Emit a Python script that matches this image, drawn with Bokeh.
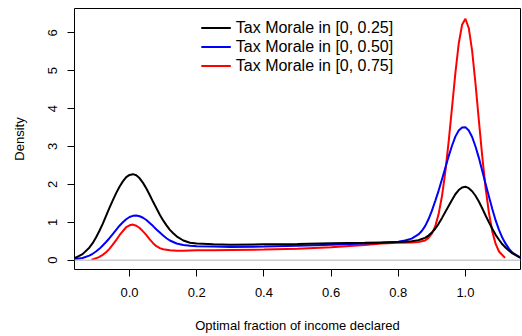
from bokeh.plotting import figure
from bokeh.models import Range1d, FixedTicker, Span, Legend, LegendItem, PrintfTickFormatter
from bokeh.embed import file_html
from bokeh.resources import INLINE

# ---- data ----
grid_x = [-0.18, -0.16, -0.14, -0.12, -0.11, -0.10, -0.09, -0.08, -0.07, -0.06,
          -0.05, -0.04, -0.03, -0.02, -0.01, 0.00, 0.01, 0.02, 0.03, 0.04,
          0.05, 0.06, 0.07, 0.08, 0.09, 0.10, 0.11, 0.12, 0.13, 0.14,
          0.16, 0.18, 0.20, 0.25, 0.30, 0.40, 0.50, 0.60, 0.70, 0.75,
          0.80, 0.82, 0.84, 0.86, 0.87, 0.88, 0.89, 0.90, 0.91, 0.92,
          0.93, 0.94, 0.95, 0.96, 0.97, 0.98, 0.99, 1.00, 1.01, 1.02,
          1.03, 1.04, 1.05, 1.06, 1.07, 1.08, 1.09, 1.10, 1.11, 1.12,
          1.13, 1.14, 1.16, 1.18]

black_y = [0.03, 0.07, 0.16, 0.33, 0.45, 0.60, 0.77, 0.96, 1.17, 1.38,
           1.58, 1.77, 1.94, 2.08, 2.19, 2.25, 2.27, 2.24, 2.16, 2.04,
           1.89, 1.72, 1.54, 1.37, 1.20, 1.05, 0.92, 0.80, 0.71, 0.63,
           0.52, 0.46, 0.44, 0.42, 0.41, 0.42, 0.43, 0.45, 0.46, 0.47,
           0.48, 0.49, 0.50, 0.53, 0.56, 0.59, 0.65, 0.73, 0.83, 0.96,
           1.11, 1.27, 1.43, 1.59, 1.74, 1.85, 1.92, 1.94, 1.90, 1.82,
           1.70, 1.55, 1.37, 1.18, 1.00, 0.83, 0.67, 0.54, 0.42, 0.33,
           0.25, 0.18, 0.08, 0.03]

blue_y = [0.01, 0.03, 0.06, 0.12, 0.17, 0.23, 0.30, 0.39, 0.48, 0.58,
          0.69, 0.80, 0.91, 1.00, 1.08, 1.14, 1.17, 1.18, 1.16, 1.12,
          1.06, 0.98, 0.90, 0.81, 0.73, 0.65, 0.58, 0.52, 0.48, 0.44,
          0.40, 0.38, 0.37, 0.36, 0.35, 0.36, 0.38, 0.41, 0.44, 0.46,
          0.49, 0.52, 0.57, 0.68, 0.77, 0.90, 1.08, 1.30, 1.56, 1.83,
          2.13, 2.43, 2.74, 3.02, 3.26, 3.42, 3.50, 3.51, 3.42, 3.25,
          3.00, 2.70, 2.36, 2.02, 1.68, 1.35, 1.05, 0.80, 0.59, 0.43,
          0.30, 0.20, 0.09, 0.03]

red_x = [-0.114, -0.10, -0.09, -0.08, -0.07, -0.06, -0.05, -0.04, -0.03, -0.02,
         -0.01, 0.00, 0.01, 0.02, 0.03, 0.04, 0.05, 0.06, 0.07, 0.08,
         0.09, 0.10, 0.12, 0.14, 0.16, 0.20, 0.25, 0.30, 0.40, 0.50,
         0.60, 0.70, 0.75, 0.80, 0.84, 0.86, 0.88, 0.89, 0.90, 0.91,
         0.92, 0.93, 0.94, 0.95, 0.96, 0.97, 0.98, 0.99, 1.00, 1.01,
         1.02, 1.03, 1.04, 1.05, 1.06, 1.07, 1.08, 1.09, 1.10, 1.118]

red_y = [0.01, 0.05, 0.09, 0.14, 0.21, 0.30, 0.41, 0.53, 0.66, 0.77,
         0.87, 0.92, 0.94, 0.91, 0.85, 0.76, 0.66, 0.55, 0.45, 0.37,
         0.32, 0.29, 0.26, 0.25, 0.25, 0.26, 0.26, 0.27, 0.28, 0.30,
         0.34, 0.40, 0.44, 0.46, 0.47, 0.48, 0.52, 0.59, 0.70, 0.89,
         1.21, 1.68, 2.32, 3.12, 4.02, 4.93, 5.71, 6.21, 6.37, 6.12,
         5.52, 4.66, 3.69, 2.75, 1.91, 1.25, 0.76, 0.43, 0.23, 0.06]

series_labels = ["Tax Morale in [0, 0.25]", "Tax Morale in [0, 0.50]", "Tax Morale in [0, 0.75]"]
x_ticks = [0.0, 0.2, 0.4, 0.6, 0.8, 1.0]
y_ticks = [0, 1, 2, 3, 4, 5, 6]
x_title = "Optimal fraction of income declared"
y_title = "Density"

FONT = "Liberation Sans"

p = figure(width=522, height=336,
           x_range=Range1d(-0.164, 1.164), y_range=Range1d(-0.245, 6.64),
           output_backend="svg", toolbar_location=None,
           min_border_left=74, min_border_right=2, min_border_top=8, min_border_bottom=67)

p.background_fill_color = "white"
p.border_fill_color = "white"
p.xgrid.visible = False
p.ygrid.visible = False
p.outline_line_color = "black"
p.outline_line_width = 1
p.outline_line_alpha = 1

p.xaxis.ticker = FixedTicker(ticks=x_ticks)
p.xaxis.formatter = PrintfTickFormatter(format="%.1f")
p.yaxis.ticker = FixedTicker(ticks=y_ticks)
p.yaxis.major_label_orientation = "vertical"
p.xaxis.axis_label = x_title
p.yaxis.axis_label = y_title

for ax in (p.xaxis[0], p.yaxis[0]):
    ax.axis_line_color = None
    ax.major_tick_in = 0
    ax.major_tick_out = 7
    ax.major_tick_line_color = "black"
    ax.minor_tick_line_color = None
    ax.major_label_text_font = FONT
    ax.major_label_text_font_size = "13px"
    ax.major_label_text_color = "black"
    ax.axis_label_text_font = FONT
    ax.axis_label_text_font_size = "13px"
    ax.axis_label_text_font_style = "normal"
    ax.axis_label_text_color = "black"

p.xaxis.major_label_standoff = 11
p.xaxis.axis_label_standoff = 18
p.yaxis.major_label_standoff = 10
p.yaxis.axis_label_standoff = 19

p.add_layout(Span(location=0, dimension="width", line_color="#cccccc", line_width=1.5))

r_red = p.line(red_x, red_y, line_color="#FF0000", line_width=2)
r_blue = p.line(grid_x, blue_y, line_color="#0000FF", line_width=2)
r_black = p.line(grid_x, black_y, line_color="#000000", line_width=2)

legend = Legend(items=[LegendItem(label=series_labels[0], renderers=[r_black]),
                       LegendItem(label=series_labels[1], renderers=[r_blue]),
                       LegendItem(label=series_labels[2], renderers=[r_red])],
                location="top_center", border_line_color=None, background_fill_alpha=0,
                padding=0, margin=10, spacing=0, glyph_width=30, glyph_height=19,
                label_height=19, label_standoff=5, label_text_font=FONT,
                label_text_font_size="16px", label_text_color="black")
p.add_layout(legend)

open("out.html", "w").write(file_html(p, INLINE))
